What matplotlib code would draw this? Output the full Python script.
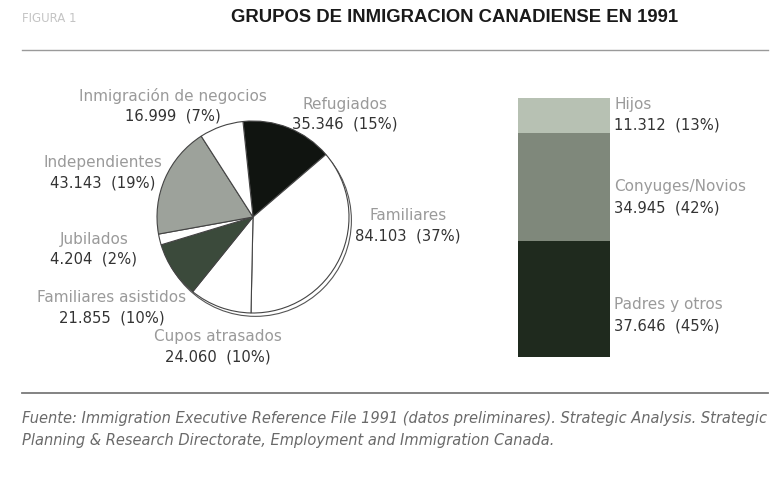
import matplotlib
matplotlib.use("Agg")
import matplotlib.pyplot as plt
from matplotlib.patches import Circle
from matplotlib.lines import Line2D

# ---------------- data ----------------
pie_labels = ["Refugiados", "Familiares", "Cupos atrasados", "Familiares asistidos",
              "Jubilados", "Independientes", "Inmigración de negocios"]
pie_values = [35346, 84103, 24060, 21855, 4204, 43143, 16999]
pie_pcts = [15, 37, 10, 10, 2, 19, 7]
pie_colors = ["#101410", "#ffffff", "#ffffff", "#3b4a3b", "#ffffff", "#9da29b", "#ffffff"]

bar_labels = ["Padres y otros", "Conyuges/Novios", "Hijos"]
bar_values = [37646, 34945, 11312]
bar_pcts = [45, 42, 13]
bar_colors = ["#1f2a1e", "#7f887b", "#b7c1b3"]

title = "GRUPOS DE INMIGRACION CANADIENSE EN 1991"
fig_label = "FIGURA 1"
source_lines = ["Fuente: Immigration Executive Reference File 1991 (datos preliminares). Strategic Analysis. Strategic",
                "Planning & Research Directorate, Employment and Immigration Canada."]

W, H = 775, 491
plt.rcParams['font.family'] = ['DejaVu Sans']
fig = plt.figure(figsize=(W / 100, H / 100), dpi=100)
fig.patch.set_facecolor("white")


def fx(x):
    return x / W


def fy(y):
    return 1 - y / H


def fmt(v):
    return f"{v:,}".replace(",", ".")


# header
fig.text(fx(22), fy(18), fig_label, fontsize=8.5, color="#c4c4c4", va="center", ha="left",
         family=["DejaVu Sans"])
fig.text(fx(455), fy(18), title, fontsize=13.3, fontweight="bold", color="#1a1a1a",
         va="center", ha="center", family=["Liberation Sans", "DejaVu Sans"])
fig.add_artist(Line2D([fx(22), fx(768)], [fy(50), fy(50)], color="#9a9a9a", lw=1.0))
fig.add_artist(Line2D([fx(22), fx(768)], [fy(393), fy(393)], color="#7a7a7a", lw=1.3))

# ---------------- pie ----------------
R = 96.0
cx, cy = 253, 217
pad = 1.06
axp = fig.add_axes([fx(cx - R * pad), fy(cy + R * pad), 2 * R * pad / W, 2 * R * pad / H])
axp.add_patch(Circle((0.025, -0.035), 1.0, facecolor="white", edgecolor="#555555",
                     lw=0.8, zorder=0))
wedges, _ = axp.pie(pie_values, colors=pie_colors, startangle=96, counterclock=False,
                    radius=1.0, wedgeprops=dict(edgecolor="#444444", linewidth=0.8),
                    frame=True)
for w in wedges:
    w.set_zorder(2)
axp.set_xlim(-pad, pad)
axp.set_ylim(-pad, pad)
axp.set_aspect("equal")
axp.axis("off")

name_color = "#9a9a9a"
num_color = "#333333"
name_fs = 11
num_fs = 10.6
pie_pos = {
    "Refugiados": (345, 104),
    "Familiares": (408, 216),
    "Cupos atrasados": (218, 337),
    "Familiares asistidos": (112, 298),
    "Jubilados": (94, 239),
    "Independientes": (103, 163),
    "Inmigración de negocios": (173, 96),
}
for lab, v, p in zip(pie_labels, pie_values, pie_pcts):
    x, y = pie_pos[lab]
    fig.text(fx(x), fy(y), lab, fontsize=name_fs, color=name_color, ha="center", va="center")
    fig.text(fx(x), fy(y + 20), f"{fmt(v)}  ({p}%)", fontsize=num_fs, color=num_color,
             ha="center", va="center")

# ---------------- stacked bar ----------------
bx0, bx1, by0, by1 = 518, 610, 98, 357
axb = fig.add_axes([fx(bx0), fy(by1), (bx1 - bx0) / W, (by1 - by0) / H])
bottom = 0
for v, c in zip(bar_values, bar_colors):
    axb.bar([0], [v], bottom=bottom, width=1.0, color=c, edgecolor="none")
    bottom += v
axb.set_xlim(-0.5, 0.5)
axb.set_ylim(0, sum(bar_values))
axb.axis("off")

bar_pos = {"Hijos": 104, "Conyuges/Novios": 187, "Padres y otros": 305}
for lab, v, p in zip(bar_labels, bar_values, bar_pcts):
    y = bar_pos[lab]
    fig.text(fx(614), fy(y), lab, fontsize=name_fs, color=name_color, ha="left", va="center")
    fig.text(fx(614), fy(y + 21), f"{fmt(v)}  ({p}%)", fontsize=num_fs, color=num_color,
             ha="left", va="center")

# ---------------- source ----------------
fig.text(fx(22), fy(419), source_lines[0], fontsize=10.5, style="italic", color="#6a6a6a",
         ha="left", va="center")
fig.text(fx(22), fy(440), source_lines[1], fontsize=10.5, style="italic", color="#6a6a6a",
         ha="left", va="center")

fig.savefig("out.png", dpi=100, facecolor="white")
